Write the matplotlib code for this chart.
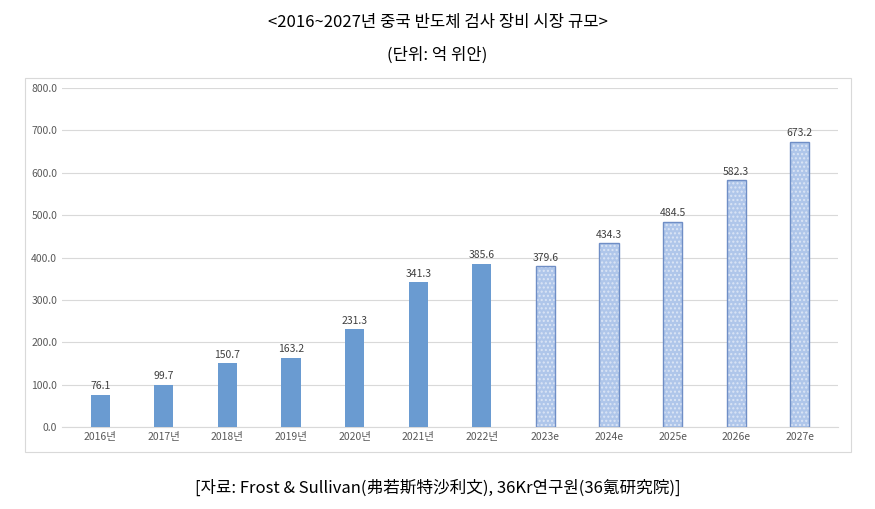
import matplotlib
matplotlib.use("Agg")
import matplotlib.pyplot as plt
from matplotlib.patches import Rectangle

plt.rcParams['font.family'] = ['Noto Sans CJK KR', 'Noto Sans CJK JP', 'Noto Sans CJK SC', 'Noto Sans CJK TC', 'DejaVu Sans']

years = ['2016년','2017년','2018년','2019년','2020년','2021년','2022년','2023e','2024e','2025e','2026e','2027e']
values = [76.1,99.7,150.7,163.2,231.3,341.3,385.6,379.6,434.3,484.5,582.3,673.2]
n_actual = 7

fig = plt.figure(figsize=(8.75,5.09), dpi=100)
fig.patches.append(Rectangle((25/875, 1-452/509), 826/875, 374/509, transform=fig.transFigure,
                             fill=False, edgecolor='#d9d9d9', lw=0.8))
ax = fig.add_axes([62/875, 1-427/509, 776/875, 339/509])
x = list(range(len(years)))
ax.bar(x[:n_actual], values[:n_actual], width=0.3, color='#6a9bd1', zorder=3)
ax.bar(x[n_actual:], values[n_actual:], width=0.3, color='#afc6ea', hatch='....',
       edgecolor='#dbe5f5', linewidth=0, zorder=3)
ax.bar(x[n_actual:], values[n_actual:], width=0.3, fill=False, edgecolor='#6f8ec6', linewidth=1.0, zorder=4)
for xi, v in zip(x, values):
    ax.text(xi, v+8, f'{v:.1f}', ha='center', va='bottom', fontsize=7.5, color='#404040')
ax.set_ylim(0, 800)
ax.set_xlim(-0.6, len(years)-0.4)
ax.set_yticks(range(0, 801, 100))
ax.set_yticklabels([f'{t:.1f}' for t in range(0, 801, 100)])
ax.set_xticks(x)
ax.set_xticklabels(years)
ax.tick_params(labelsize=7.5, colors='#595959', length=0)
ax.grid(axis='y', color='#d9d9d9', lw=0.8, zorder=0)
for s in ['top','right','left']:
    ax.spines[s].set_visible(False)
ax.spines['bottom'].set_color('#d9d9d9')

fig.text(0.5, 1-22/509, '<2016~2027년 중국 반도체 검사 장비 시장 규모>', ha='center', va='center', fontsize=12)
fig.text(0.5, 1-55/509, '(단위: 억 위안)', ha='center', va='center', fontsize=12)
fig.text(0.5, 1-488/509, '[자료: Frost & Sullivan(弗若斯特沙利文), 36Kr연구원(36氪研究院)]', ha='center', va='center', fontsize=12)
fig.savefig('out.png', dpi=100)
